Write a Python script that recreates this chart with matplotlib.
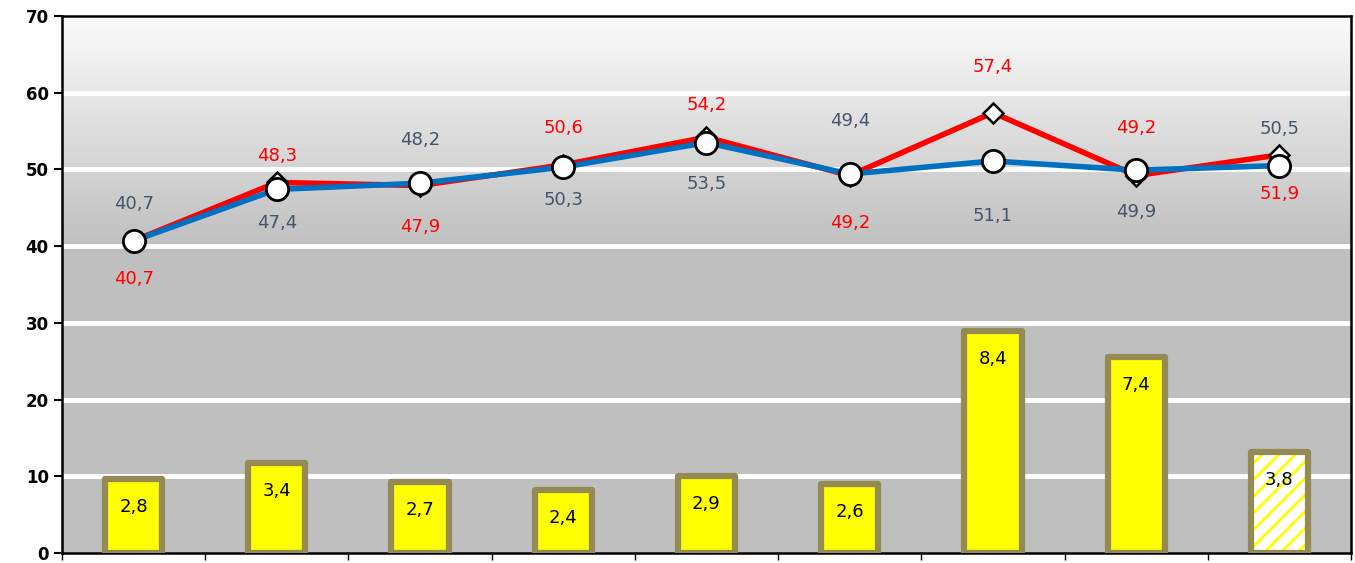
import matplotlib.pyplot as plt
import numpy as np

plt.rcParams.update({'font.family': 'DejaVu Sans', 'hatch.linewidth': 2})

# data
x = np.arange(9)
red_vals = [40.7, 48.3, 47.9, 50.6, 54.2, 49.2, 57.4, 49.2, 51.9]
blue_vals = [40.7, 47.4, 48.2, 50.3, 53.5, 49.4, 51.1, 49.9, 50.5]
bar_vals = [2.8, 3.4, 2.7, 2.4, 2.9, 2.6, 8.4, 7.4, 3.8]
hatched = [False] * 8 + [True]

# label offsets in pixels (positive = above point)
red_off = [-38, 26, -41, 37, 32, -47, 46, 48, -39]
blue_off = [37, -34, 43, -33, -41, 53, -55, -42, 37]


def fmt(v):
    return f'{v:.1f}'.replace('.', ',')


fig = plt.figure(figsize=(13.55, 5.63), dpi=100)
ax = fig.add_axes([62 / 1355, 10 / 563, 1289 / 1355, 537 / 563])

# background: gradient above 40, flat grey below
yy = np.linspace(70, 0, 700)
g = np.where(yy >= 40, 0.75 + (yy - 40) / 30 * 0.235, 0.75)
bg = np.repeat(g[:, None, None], 3, axis=2)
ax.imshow(bg, extent=[-0.5, 8.5, 0, 70], aspect='auto', zorder=0, interpolation='bilinear')

for gy in range(10, 70, 10):
    ax.axhline(gy, color='white', lw=3.5, zorder=1)

ax.plot(x, red_vals, color='#FF0000', lw=4, marker='D', ms=10, mfc='white',
        mec='black', mew=1.8, zorder=4)
ax.plot(x, blue_vals, color='#0070C0', lw=4, marker='o', ms=16, mfc='white',
        mec='black', mew=2, zorder=5)

for xi, v, o in zip(x, red_vals, red_off):
    ax.annotate(fmt(v), (xi, v), xytext=(0, o), textcoords='offset pixels',
                ha='center', va='center', color='#FF0000', fontsize=13, zorder=6)
for xi, v, o in zip(x, blue_vals, blue_off):
    ax.annotate(fmt(v), (xi, v), xytext=(0, o), textcoords='offset pixels',
                ha='center', va='center', color='#44546A', fontsize=13, zorder=6)

ax.set_xlim(-0.5, 8.5)
ax.set_ylim(0, 70)
ax.set_yticks(range(0, 80, 10))
ax.set_xticks(np.arange(-0.5, 9, 1))
ax.set_xticklabels([])
ax.tick_params(axis='y', labelsize=12, length=6, width=1.5, direction='out')
ax.tick_params(axis='x', length=5, width=1, direction='out')
for lab in ax.get_yticklabels():
    lab.set_fontweight('bold')
for s in ax.spines.values():
    s.set_linewidth(1.8)
    s.set_color('black')

# bars on a hidden secondary scale
ax2 = ax.twinx()
ax2.set_ylim(0, 20.3)
ax2.set_yticks([])
for s in ax2.spines.values():
    s.set_visible(False)
for xi, v, h in zip(x, bar_vals, hatched):
    if h:
        ax2.bar(xi, v, width=0.4, color='white', edgecolor='#FFFF00', hatch='//', lw=0)
        ax2.bar(xi, v, width=0.4, color='none', edgecolor='#948A54', lw=4.5,
                joinstyle='round')
    else:
        ax2.bar(xi, v, width=0.4, color='#FFFF00', edgecolor='#948A54', lw=4.5,
                joinstyle='round')
    ax2.annotate(fmt(v), (xi, v), xytext=(0, -28), textcoords='offset pixels',
                 ha='center', va='center', color='black', fontsize=13)

fig.savefig('out.png', dpi=100)
